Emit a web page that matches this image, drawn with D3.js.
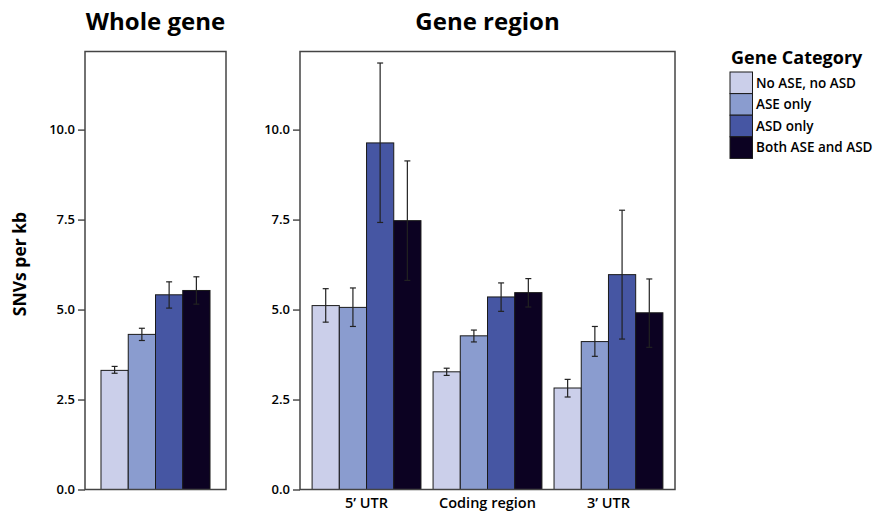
<!DOCTYPE html>
<html>
<head>
	<title>SNVs per kb</title>
	<meta charset="utf-8">
	<script src="https://d3js.org/d3.v7.min.js"></script>
	<style>
		body { margin: 0; background: #fff; }
		text { font-family: "Open Sans", sans-serif; fill: #000; }
	</style>
</head>
<body>
	<script type="text/javascript">
		var width = 873
		var height = 513

		// data
		var categories = ["No ASE, no ASD", "ASE only", "ASD only", "Both ASE and ASD"]
		var colors = ["#cbcfea", "#8a9ccf", "#4656a3", "#0c0222"]
		var regions = ["5’ UTR", "Coding region", "3’ UTR"]
		var yTicks = [0, 2.5, 5, 7.5, 10]

		var wholeGene = [3.31, 4.31, 5.41, 5.53]
		var wholeLow = [3.23, 4.14, 5.04, 5.15]
		var wholeHigh = [3.42, 4.48, 5.77, 5.91]

		var utr5 = [5.11, 5.06, 9.63, 7.47]
		var utr5Low = [4.65, 4.53, 7.42, 5.81]
		var utr5High = [5.58, 5.60, 11.85, 9.13]

		var coding = [3.27, 4.27, 5.35, 5.47]
		var codingLow = [3.17, 4.10, 4.95, 5.07]
		var codingHigh = [3.37, 4.43, 5.74, 5.86]

		var utr3 = [2.82, 4.11, 5.97, 4.91]
		var utr3Low = [2.57, 3.70, 4.18, 3.95]
		var utr3High = [3.06, 4.53, 7.76, 5.85]

		var svg = d3.select("body").append("svg")
		  .attr("width", width)
		  .attr("height", height)

		var y = d3.scaleLinear().domain([0, 12.17]).range([489.5, 51.5])

		function rows(vals, lows, highs) {
			return vals.map(function(v, i) {
				return {cat: i, value: v, low: lows[i], high: highs[i]}
			})
		}

		function drawPanel(x0, x1, title, groups, outerPad) {
			var g = svg.append("g")

			var x = d3.scaleBand()
				.domain(groups.map(d => d.name))
				.range([x0, x1])
				.paddingInner(0.1)
				.paddingOuter(outerPad)

			var xs = d3.scaleBand().domain(d3.range(categories.length)).range([0, x.bandwidth()])

			var axis = g.append("g")
				.attr("transform", "translate(" + x0 + ",0)")
				.call(d3.axisLeft(y).tickValues(yTicks).tickSize(7).tickPadding(3).tickFormat(d3.format(".1f")))
			axis.select(".domain").remove()
			axis.selectAll("line").attr("stroke", "#222").attr("stroke-width", 1.2)
			axis.selectAll("text").attr("font-size", 13).attr("font-weight", 600)
				.style("font-family", "'Open Sans', sans-serif").attr("fill", "#000")

			var grp = g.selectAll(".grp")
				.data(groups)
				.enter()
				.append("g")
				.attr("transform", d => "translate(" + x(d.name) + ",0)")

			grp.selectAll("rect")
				.data(d => d.rows)
				.enter()
				.append("rect")
				.attr("x", d => xs(d.cat))
				.attr("width", xs.bandwidth())
				.attr("y", d => y(d.value))
				.attr("height", d => y(0) - y(d.value))
				.attr("fill", d => colors[d.cat])
				.attr("stroke", "#1a1a1a")
				.attr("stroke-width", 1)

			var err = grp.selectAll(".err")
				.data(d => d.rows)
				.enter()
				.append("g")
				.attr("stroke", "#222")
				.attr("stroke-width", 1.2)
			err.append("line")
				.attr("x1", d => xs(d.cat) + xs.bandwidth() / 2)
				.attr("x2", d => xs(d.cat) + xs.bandwidth() / 2)
				.attr("y1", d => y(d.low))
				.attr("y2", d => y(d.high))
			err.append("line")
				.attr("x1", d => xs(d.cat) + xs.bandwidth() / 2 - 3)
				.attr("x2", d => xs(d.cat) + xs.bandwidth() / 2 + 3)
				.attr("y1", d => y(d.low))
				.attr("y2", d => y(d.low))
			err.append("line")
				.attr("x1", d => xs(d.cat) + xs.bandwidth() / 2 - 3)
				.attr("x2", d => xs(d.cat) + xs.bandwidth() / 2 + 3)
				.attr("y1", d => y(d.high))
				.attr("y2", d => y(d.high))

			// x labels (only for named groups)
			grp.filter(d => d.name != "")
				.append("text")
				.attr("x", x.bandwidth() / 2)
				.attr("y", 508)
				.attr("text-anchor", "middle")
				.attr("font-size", 14.5)
				.attr("font-weight", 600)
				.text(d => d.name)

			g.append("rect")
				.attr("x", x0)
				.attr("y", y.range()[1])
				.attr("width", x1 - x0)
				.attr("height", y.range()[0] - y.range()[1])
				.attr("fill", "none")
				.attr("stroke", "#444")
				.attr("stroke-width", 1.5)

			g.append("text")
				.attr("x", (x0 + x1) / 2)
				.attr("y", 30)
				.attr("text-anchor", "middle")
				.attr("font-size", 24)
				.attr("font-weight", 700)
				.text(title)
		}

		drawPanel(85, 226, "Whole gene", [{name: "", rows: rows(wholeGene, wholeLow, wholeHigh)}], 0.132)
		drawPanel(300, 675, "Gene region", [
			{name: regions[0], rows: rows(utr5, utr5Low, utr5High)},
			{name: regions[1], rows: rows(coding, codingLow, codingHigh)},
			{name: regions[2], rows: rows(utr3, utr3Low, utr3High)}
		], 0.1)

		// y axis title
		svg.append("text")
			.attr("transform", "translate(26,264) rotate(-90)")
			.attr("text-anchor", "middle")
			.attr("font-size", 17.5)
			.attr("font-weight", 700)
			.text("SNVs per kb")

		// legend
		var legend = svg.append("g").attr("transform", "translate(730,72)")
		legend.append("text")
			.attr("x", 1)
			.attr("y", -8)
			.attr("font-size", 18)
			.attr("font-weight", 700)
			.text("Gene Category")

		var item = legend.selectAll(".item")
			.data(categories)
			.enter()
			.append("g")
			.attr("transform", (d, i) => "translate(0," + i * 21.6 + ")")
		item.append("rect")
			.attr("width", 22.5)
			.attr("height", 21.6)
			.attr("fill", (d, i) => colors[i])
			.attr("stroke", "#1a1a1a")
			.attr("stroke-width", 1)
		item.append("text")
			.attr("x", 26)
			.attr("y", 15.5)
			.attr("font-size", 13.5)
			.attr("font-weight", 600)
			.text(d => d)
	</script>
</body>
</html>
